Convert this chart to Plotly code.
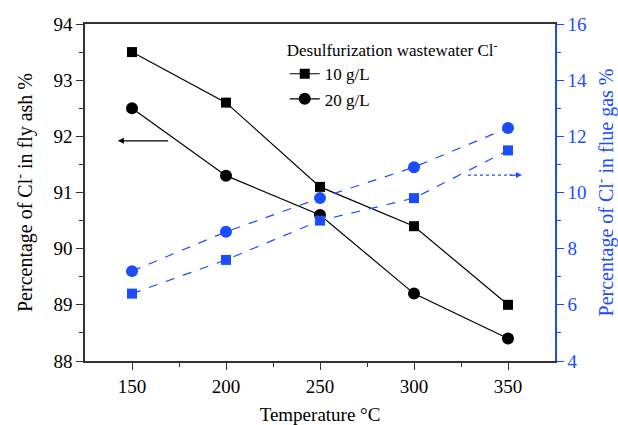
import plotly.graph_objects as go

temps = [150, 200, 250, 300, 350]
ash_10 = [93.5, 92.6, 91.1, 90.4, 89.0]
ash_20 = [92.5, 91.3, 90.6, 89.2, 88.4]
gas_10 = [6.4, 7.6, 9.0, 9.8, 11.5]
gas_20 = [7.2, 8.6, 9.8, 10.9, 12.3]

BLUE = "#1a4dff"
FONT = "Liberation Serif, Times New Roman, serif"

fig = go.Figure()
fig.add_trace(go.Scatter(x=temps, y=ash_10, mode="lines+markers", name="10 g/L",
                         line=dict(color="black", width=1.2),
                         marker=dict(symbol="square", size=10, color="black")))
fig.add_trace(go.Scatter(x=temps, y=ash_20, mode="lines+markers", name="20 g/L",
                         line=dict(color="black", width=1.2),
                         marker=dict(symbol="circle", size=12, color="black")))
fig.add_trace(go.Scatter(x=temps, y=gas_10, mode="lines+markers", yaxis="y2", showlegend=False,
                         line=dict(color=BLUE, width=1.2, dash="dash"),
                         marker=dict(symbol="square", size=10, color=BLUE)))
fig.add_trace(go.Scatter(x=temps, y=gas_20, mode="lines+markers", yaxis="y2", showlegend=False,
                         line=dict(color=BLUE, width=1.2, dash="dash"),
                         marker=dict(symbol="circle", size=12, color=BLUE)))

fig.update_layout(
    width=618, height=425,
    margin=dict(l=85, r=63, t=24, b=64),
    paper_bgcolor="white", plot_bgcolor="white",
    font=dict(family=FONT, size=19, color="black"),
    xaxis=dict(range=[125, 375], tickvals=[150, 200, 250, 300, 350], automargin=False,
               ticks="outside", ticklen=7, tickwidth=1.2, tickcolor="#333",
               minor=dict(tickvals=[175, 225, 275, 325], ticks="outside", ticklen=4, tickcolor="#333"),
               showline=True, linecolor="#333", linewidth=1.5, mirror=True,
               showgrid=False, zeroline=False,
               tickfont=dict(family=FONT, size=19),
               title=dict(text="Temperature °C", font=dict(family=FONT, size=19))),
    yaxis=dict(range=[88, 94], dtick=1, automargin=False,
               ticks="outside", ticklen=7, tickwidth=1.2, tickcolor="#333",
               minor=dict(dtick=0.5, ticks="outside", ticklen=4, tickcolor="#333"),
               showline=True, linecolor="#333", linewidth=1.5,
               showgrid=False, zeroline=False,
               tickfont=dict(family=FONT, size=19),
               title=dict(text="Percentage of Cl<sup>-</sup> in fly ash %", font=dict(family=FONT, size=20))),
    yaxis2=dict(range=[4, 16], dtick=2, overlaying="y", side="right", automargin=False,
                ticks="outside", ticklen=7, tickwidth=1.2, tickcolor=BLUE,
                minor=dict(dtick=1, ticks="outside", ticklen=4, tickcolor=BLUE),
                showline=True, linecolor=BLUE, linewidth=1.5,
                showgrid=False, zeroline=False,
                tickfont=dict(family=FONT, size=19, color=BLUE),
                title=dict(text="Percentage of Cl<sup>-</sup> in flue gas %", font=dict(family=FONT, size=20, color=BLUE))),
    legend=dict(x=0.425, y=0.97, xanchor="left", yanchor="top", bgcolor="rgba(0,0,0,0)",
                font=dict(family=FONT, size=17), tracegroupgap=0,
                title=dict(text="Desulfurization wastewater Cl<sup>-</sup>", font=dict(family=FONT, size=17))),
    showlegend=True,
)

fig.add_annotation(x=142.5, y=91.92, ax=170, ay=91.92, xref="x", yref="y", axref="x", ayref="y",
                   text="", showarrow=True, arrowhead=2, arrowsize=1, arrowwidth=1.2, arrowcolor="black")

fig.add_shape(type="line", x0=328.7, x1=352, y0=10.62, y1=10.62, xref="x", yref="y2",
              line=dict(color=BLUE, width=1.2, dash="dot"))
fig.add_annotation(x=357.4, y=10.62, ax=350, ay=10.62, xref="x", yref="y2", axref="x", ayref="y2",
                   text="", showarrow=True, arrowhead=2, arrowsize=1, arrowwidth=1.2, arrowcolor=BLUE)

fig.write_html("out.html")
